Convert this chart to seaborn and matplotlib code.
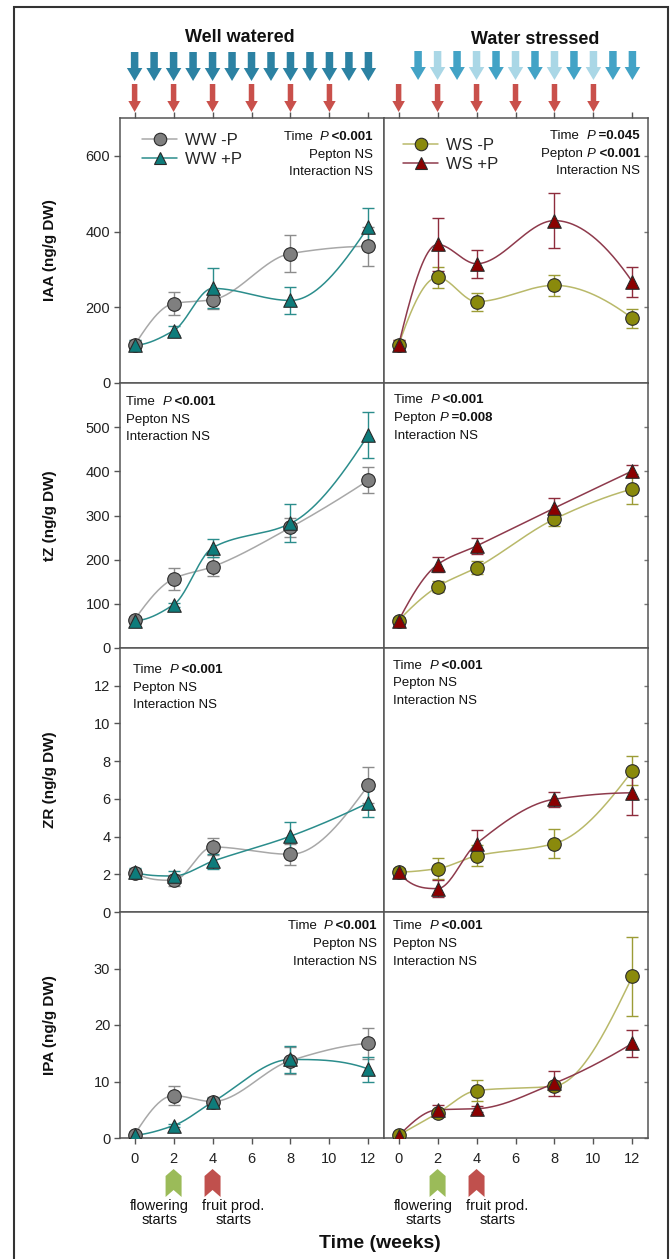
import numpy as np
import pandas as pd
import matplotlib
matplotlib.use("Agg")
import matplotlib.pyplot as plt
import matplotlib.transforms as mtransforms
from matplotlib.patches import Polygon, Rectangle
from matplotlib.lines import Line2D
from matplotlib.offsetbox import TextArea, HPacker, AnnotationBbox
import seaborn as sns

# ---------------- data ----------------
weeks = [0, 2, 4, 8, 12]

iaa_ww_mp = [100, 210, 220, 342, 361]
iaa_ww_mp_se = [14, 30, 25, 48, 52]
iaa_ww_pp = [100, 138, 250, 218, 413]
iaa_ww_pp_se = [14, 12, 53, 35, 50]
iaa_ws_mp = [100, 279, 215, 258, 171]
iaa_ws_mp_se = [14, 27, 24, 27, 25]
iaa_ws_pp = [100, 366, 315, 429, 267]
iaa_ws_pp_se = [14, 70, 37, 72, 40]

tz_ww_mp = [64, 157, 184, 273, 380]
tz_ww_mp_se = [6, 25, 22, 22, 29]
tz_ww_pp = [62, 98, 227, 282, 483]
tz_ww_pp_se = [5, 5, 20, 43, 52]
tz_ws_mp = [62, 139, 182, 292, 360]
tz_ws_mp_se = [5, 12, 15, 15, 35]
tz_ws_pp = [62, 189, 231, 317, 401]
tz_ws_pp_se = [5, 18, 18, 22, 14]

zr_ww_mp = [2.09, 1.68, 3.45, 3.06, 6.73]
zr_ww_mp_se = [0.2, 0.3, 0.45, 0.55, 0.95]
zr_ww_pp = [2.10, 1.91, 2.69, 4.02, 5.79]
zr_ww_pp_se = [0.25, 0.25, 0.4, 0.75, 0.75]
zr_ws_mp = [2.12, 2.30, 2.98, 3.63, 7.49]
zr_ws_mp_se = [0.2, 0.55, 0.55, 0.75, 0.78]
zr_ws_pp = [2.10, 1.24, 3.63, 5.98, 6.32]
zr_ws_pp_se = [0.2, 0.45, 0.7, 0.4, 1.2]

ipa_ww_mp = [0.6, 7.5, 6.45, 13.7, 16.75]
ipa_ww_mp_se = [0.3, 1.7, 0.8, 2.4, 2.7]
ipa_ww_pp = [0.5, 2.2, 6.35, 13.9, 12.2]
ipa_ww_pp_se = [0.3, 0.3, 0.8, 2.4, 2.2]
ipa_ws_mp = [0.5, 4.4, 8.4, 9.2, 28.6]
ipa_ws_mp_se = [0.3, 0.6, 1.9, 0.8, 7.0]
ipa_ws_pp = [0.4, 5.0, 5.17, 9.7, 16.75]
ipa_ws_pp_se = [0.3, 0.9, 0.5, 2.2, 2.4]

hormones = ["IAA", "tZ", "ZR", "IPA"]
y_labels = ["IAA (ng/g DW)", "tZ (ng/g DW)", "ZR (ng/g DW)", "IPA (ng/g DW)"]
y_limits = [(0, 700), (0, 600), (0, 14), (0, 40)]
y_ticks = [[0, 200, 400, 600], [0, 100, 200, 300, 400, 500],
           [0, 2, 4, 6, 8, 10, 12], [0, 10, 20, 30]]
x_ticks = [0, 2, 4, 6, 8, 10, 12]

ww_labels = ["WW -P", "WW +P"]
ws_labels = ["WS -P", "WS +P"]

# irrigation / peptone schedules (weeks)
ww_water_weeks = [0, 1, 2, 3, 4, 5, 6, 7, 8, 9, 10, 11, 12]
ws_water_weeks = [1, 2, 3, 4, 5, 6, 7, 8, 9, 10, 11, 12]
ws_water_full = [1, 0, 1, 0, 1, 0, 1, 0, 1, 0, 1, 1]
peptone_weeks = [0, 2, 4, 6, 8, 10]
flowering_week = 2
fruit_week = 4

# statistics text: list of lines, each line a list of (text, style)
N, I, B = "normal", "italic", "bold"
stats = {
    ("IAA", "ww"): [[("Time  ", N), ("P", I), (" <0.001", B)], [("Pepton NS", N)], [("Interaction NS", N)]],
    ("IAA", "ws"): [[("Time  ", N), ("P", I), (" =0.045", B)], [("Pepton ", N), ("P", I), (" <0.001", B)], [("Interaction NS", N)]],
    ("tZ", "ww"): [[("Time  ", N), ("P", I), (" <0.001", B)], [("Pepton NS", N)], [("Interaction NS", N)]],
    ("tZ", "ws"): [[("Time  ", N), ("P", I), (" <0.001", B)], [("Pepton ", N), ("P", I), (" =0.008", B)], [("Interaction NS", N)]],
    ("ZR", "ww"): [[("Time  ", N), ("P", I), (" <0.001", B)], [("Pepton NS", N)], [("Interaction NS", N)]],
    ("ZR", "ws"): [[("Time  ", N), ("P", I), (" <0.001", B)], [("Pepton NS", N)], [("Interaction NS", N)]],
    ("IPA", "ww"): [[("Time  ", N), ("P", I), (" <0.001", B)], [("Pepton NS", N)], [("Interaction NS", N)]],
    ("IPA", "ws"): [[("Time  ", N), ("P", I), (" <0.001", B)], [("Pepton NS", N)], [("Interaction NS", N)]],
}

series = {
    ("IAA", "ww"): [(iaa_ww_mp, iaa_ww_mp_se), (iaa_ww_pp, iaa_ww_pp_se)],
    ("IAA", "ws"): [(iaa_ws_mp, iaa_ws_mp_se), (iaa_ws_pp, iaa_ws_pp_se)],
    ("tZ", "ww"): [(tz_ww_mp, tz_ww_mp_se), (tz_ww_pp, tz_ww_pp_se)],
    ("tZ", "ws"): [(tz_ws_mp, tz_ws_mp_se), (tz_ws_pp, tz_ws_pp_se)],
    ("ZR", "ww"): [(zr_ww_mp, zr_ww_mp_se), (zr_ww_pp, zr_ww_pp_se)],
    ("ZR", "ws"): [(zr_ws_mp, zr_ws_mp_se), (zr_ws_pp, zr_ws_pp_se)],
    ("IPA", "ww"): [(ipa_ww_mp, ipa_ww_mp_se), (ipa_ww_pp, ipa_ww_pp_se)],
    ("IPA", "ws"): [(ipa_ws_mp, ipa_ws_mp_se), (ipa_ws_pp, ipa_ws_pp_se)],
}

# styles: (marker, face, line colour, errorbar colour)
styles = {
    "ww": [("o", "#7f7f7f", "#a8a8a8", "#8c8c8c"), ("^", "#0e7c7b", "#2b8d8c", "#2b8d8c")],
    "ws": [("o", "#8a8a0c", "#b9b96a", "#9c9c36"), ("^", "#8b0000", "#8e3a4c", "#8e2c3c")],
}

# ---------------- helpers ----------------
def pchip(x, y, xs):
    """Shape-preserving piecewise cubic Hermite curve through (x, y)."""
    x = np.asarray(x, float)
    y = np.asarray(y, float)
    h = np.diff(x)
    delta = np.diff(y) / h
    n = len(x)
    d = np.zeros(n)
    for k in range(1, n - 1):
        if delta[k - 1] * delta[k] > 0:
            w1 = 2 * h[k] + h[k - 1]
            w2 = h[k] + 2 * h[k - 1]
            d[k] = (w1 + w2) / (w1 / delta[k - 1] + w2 / delta[k])
    # end slopes
    def end_slope(h0, h1, d0, d1):
        s = ((2 * h0 + h1) * d0 - h0 * d1) / (h0 + h1)
        if np.sign(s) != np.sign(d0):
            s = 0.0
        elif np.sign(d0) != np.sign(d1) and abs(s) > abs(3 * d0):
            s = 3 * d0
        return s
    d[0] = end_slope(h[0], h[1], delta[0], delta[1])
    d[-1] = end_slope(h[-1], h[-2], delta[-1], delta[-2])
    out = np.empty(len(xs))
    for j, xv in enumerate(xs):
        i = min(max(np.searchsorted(x, xv) - 1, 0), n - 2)
        t = (xv - x[i]) / h[i]
        h00 = 2 * t ** 3 - 3 * t ** 2 + 1
        h10 = t ** 3 - 2 * t ** 2 + t
        h01 = -2 * t ** 3 + 3 * t ** 2
        h11 = t ** 3 - t ** 2
        out[j] = h00 * y[i] + h10 * h[i] * d[i] + h01 * y[i + 1] + h11 * h[i] * d[i + 1]
    return out


W, H = 671, 1259


def fx(px):
    return px / W


def fy(py):
    return 1 - py / H


# ---------------- figure ----------------
sns.set_theme(style="white")
plt.rcParams["font.family"] = ["Liberation Sans", "DejaVu Sans"]
plt.rcParams["axes.edgecolor"] = "#555555"
plt.rcParams["axes.linewidth"] = 1.1

fig = plt.figure(figsize=(W / 100, H / 100), dpi=100)

col_left = [120, 384]
col_w = 264
row_top = [118, 383, 648, 912]
row_bot = [383, 648, 912, 1138]
x_lo, x_hi = -0.75, 12.8
px_per_week = col_w / (x_hi - x_lo)

axes = {}
for r, hname in enumerate(hormones):
    for c, cond in enumerate(["ww", "ws"]):
        x0 = col_left[c]
        ax = fig.add_axes([fx(x0), fy(row_bot[r]), col_w / W, (row_bot[r] - row_top[r]) / H])
        ax.set_facecolor("white")
        axes[(hname, cond)] = ax
        ax.set_xlim(x_lo, x_hi)
        ax.set_ylim(*y_limits[r])

        xs = np.linspace(0, 12, 241)
        for k, (vals, se) in enumerate(series[(hname, cond)]):
            mk, face, lc, ec = styles[cond][k]
            curve = pd.DataFrame({"week": xs, "value": pchip(weeks, vals, xs)})
            sns.lineplot(data=curve, x="week", y="value", ax=ax, color=lc,
                         linewidth=1.1, zorder=2, legend=False)
            ax.errorbar(weeks, vals, yerr=se, fmt="none", ecolor=ec,
                        elinewidth=1.0, capsize=4, capthick=1.0, zorder=3)
            pts = pd.DataFrame({"week": weeks, "value": vals})
            sns.scatterplot(data=pts, x="week", y="value", ax=ax, marker=mk,
                            s=95, color=face, edgecolor="#2a2a2a", linewidth=0.8,
                            zorder=4, legend=False)
        ax.set_xlabel("")
        ax.set_ylabel("")

        # ticks
        ax.set_xticks(x_ticks)
        ax.set_yticks(y_ticks[r])
        if c == 0:
            ax.tick_params(axis="y", which="both", left=True, right=False,
                           direction="out", length=4, width=1, color="#555555",
                           labelsize=10.5, pad=3, labelcolor="#222222")
            ax.set_ylabel(y_labels[r], fontsize=11, fontweight="bold", color="#111111")
            ax.yaxis.set_label_coords((57 - 120) / col_w, 0.5)
        else:
            ax.tick_params(axis="y", left=False, right=True, labelleft=False,
                           direction="in", length=3, width=1, color="#777777")
        if r == 3:
            ax.tick_params(axis="x", bottom=True, top=False, direction="out",
                           length=4, width=1, color="#555555", labelsize=10.5,
                           pad=6, labelcolor="#222222")
        elif r == 0:
            ax.tick_params(axis="x", bottom=False, top=True, labelbottom=False,
                           direction="out", length=4, width=1, color="#555555")
        else:
            ax.tick_params(axis="x", bottom=False, top=False, labelbottom=False)
        for sp in ax.spines.values():
            sp.set_color("#555555")
            sp.set_linewidth(1.1)

# ---------------- legends ----------------
def legend_handles(cond, labels):
    hs = []
    for k, lab in enumerate(labels):
        mk, face, lc, ec = styles[cond][k]
        hs.append(Line2D([0], [0], color=lc, linewidth=1.1, marker=mk,
                         markersize=9, markerfacecolor=face,
                         markeredgecolor="#2a2a2a", markeredgewidth=0.8, label=lab))
    return hs


fig.legend(handles=legend_handles("ww", ww_labels), loc="upper left",
           bbox_to_anchor=(fx(142), fy(133)), frameon=False, fontsize=12,
           handlelength=2.1, handletextpad=0.5, labelspacing=0.25,
           borderpad=0, borderaxespad=0)
fig.legend(handles=legend_handles("ws", ws_labels), loc="upper left",
           bbox_to_anchor=(fx(403), fy(138)), frameon=False, fontsize=12,
           handlelength=2.1, handletextpad=0.5, labelspacing=0.25,
           borderpad=0, borderaxespad=0)

# ---------------- statistics text ----------------
stat_pos = {
    ("IAA", "ww"): (373, [137, 155, 172], "right"),
    ("IAA", "ws"): (640, [136, 154, 171], "right"),
    ("tZ", "ww"): (126, [402, 420, 437], "left"),
    ("tZ", "ws"): (394, [400, 418, 436], "left"),
    ("ZR", "ww"): (133, [670, 688, 705], "left"),
    ("ZR", "ws"): (393, [666, 683, 701], "left"),
    ("IPA", "ww"): (377, [926, 944, 962], "right"),
    ("IPA", "ws"): (393, [926, 944, 962], "left"),
}

for key, lines in stats.items():
    xp, ys, ha = stat_pos[key]
    for line, yp in zip(lines, ys):
        parts = []
        for txt, sty in line:
            props = dict(fontsize=9.5, color="#111111",
                         family=["Liberation Sans", "DejaVu Sans"])
            if sty == "italic":
                props["fontstyle"] = "italic"
            if sty == "bold":
                props["fontweight"] = "bold"
            parts.append(TextArea(txt, textprops=props))
        box = HPacker(children=parts, sep=0, pad=0, align="baseline")
        ab = AnnotationBbox(box, (fx(xp), fy(yp)), xycoords="figure fraction",
                            box_alignment=(1.0 if ha == "right" else 0.0, 0.5),
                            frameon=False, pad=0)
        fig.add_artist(ab)

# ---------------- treatment arrows above the panels ----------------
def down_arrow(ax, x, ytop, yhead, ytip, shaft_px, head_px, color):
    sw = shaft_px / px_per_week / 2
    hw = head_px / px_per_week / 2
    tr = mtransforms.blended_transform_factory(ax.transData, fig.transFigure)
    pts = [(x - sw, fy(ytop)), (x + sw, fy(ytop)), (x + sw, fy(yhead)),
           (x + hw, fy(yhead)), (x, fy(ytip)), (x - hw, fy(yhead)),
           (x - sw, fy(yhead))]
    fig.add_artist(Polygon(pts, closed=True, transform=tr, facecolor=color,
                           edgecolor="none"))


ax_ww_top = axes[("IAA", "ww")]
ax_ws_top = axes[("IAA", "ws")]
for w in ww_water_weeks:
    down_arrow(ax_ww_top, w, 52, 68, 81, 7.5, 15.5, "#2c82a3")
for w, full in zip(ws_water_weeks, ws_water_full):
    down_arrow(ax_ws_top, w, 51, 67, 80, 7.5, 15.5, "#43a3c6" if full else "#aad7e6")
for ax_top in (ax_ww_top, ax_ws_top):
    for w in peptone_weeks:
        down_arrow(ax_top, w, 84, 101, 112, 5.5, 12.5, "#c9504b")

fig.text(fx(240), fy(38), "Well watered", ha="center", va="center",
         fontsize=13, fontweight="bold", color="#111111")
fig.text(fx(535), fy(40), "Water stressed", ha="center", va="center",
         fontsize=13, fontweight="bold", color="#111111")

# ---------------- phenology markers below the x axis ----------------
def chevron(ax, x, color):
    hw = 8 / px_per_week
    tr = mtransforms.blended_transform_factory(ax.transData, fig.transFigure)
    pts = [(x, fy(1169)), (x + hw, fy(1176)), (x + hw, fy(1197)),
           (x, fy(1190)), (x - hw, fy(1197)), (x - hw, fy(1176))]
    fig.add_artist(Polygon(pts, closed=True, transform=tr, facecolor=color,
                           edgecolor="none"))


for cond in ("ww", "ws"):
    ax = axes[("IPA", cond)]
    chevron(ax, flowering_week, "#9bbb59")
    chevron(ax, fruit_week, "#c0504d")
    tr = mtransforms.blended_transform_factory(ax.transData, fig.transFigure)
    ax.annotate("flowering\nstarts", xy=(flowering_week, fy(1213)), xycoords=tr,
                xytext=(-10, 0), textcoords="offset points", ha="center",
                va="center", fontsize=10.5, linespacing=1.05, color="#111111",
                annotation_clip=False)
    ax.annotate("fruit prod.\nstarts", xy=(fruit_week, fy(1213)), xycoords=tr,
                xytext=(15, 0), textcoords="offset points", ha="center",
                va="center", fontsize=10.5, linespacing=1.05, color="#111111",
                annotation_clip=False)

fig.text(fx(380), fy(1243), "Time (weeks)", ha="center", va="center",
         fontsize=14, fontweight="bold", color="#111111")

# outer frame
fig.add_artist(Rectangle((fx(14), -0.01), fx(668) - fx(14), fy(7) + 0.01,
                         transform=fig.transFigure, fill=False,
                         edgecolor="#333333", linewidth=1.5))

fig.savefig("out.png", dpi=100)
